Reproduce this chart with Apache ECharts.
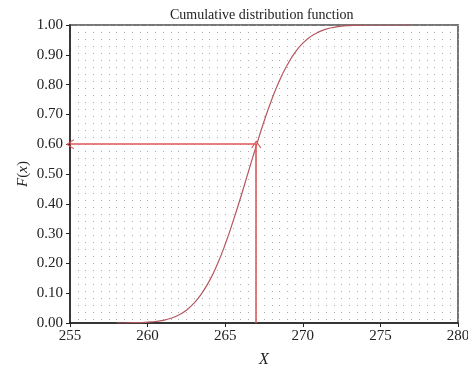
<!DOCTYPE html>
<html>
<head>
<meta charset="utf-8">
<script src="https://cdn.jsdelivr.net/npm/echarts@6/dist/echarts.min.js"></script>
<style>html,body{margin:0;padding:0;background:#fff;}#c{width:468px;height:370px;}</style>
</head>
<body>
<div id="c"></div>
<script>
var titleText = 'Cumulative distribution function';
var xValues = [258,258.5,259,259.5,260,260.5,261,261.5,262,262.5,263,263.5,264,264.5,265,265.5,266,266.5,267,267.5,268,268.5,269,269.5,270,270.5,271,271.5,272,272.5,273,273.5,274,275,276,277];
var cdfValues = [0.000,0.000,0.001,0.001,0.003,0.005,0.009,0.016,0.027,0.043,0.067,0.100,0.143,0.198,0.264,0.340,0.422,0.509,0.594,0.676,0.750,0.814,0.866,0.908,0.939,0.961,0.976,0.986,0.992,0.996,0.998,0.999,1.000,1.000,1.000,1.000];
var markX = 267;
var markY = 0.60;
var xMin = 255, xMax = 280, xStep = 5;
var yMin = 0, yMax = 1, yStep = 0.1;

var serif = "'Liberation Serif', 'DejaVu Serif', serif";
var curveData = xValues.map(function (x, i) { return [x, cdfValues[i]]; });
var chevron = 'path://M0,10 L5,0 L10,10 L9,10.6 L5,2.6 L1,10.6 Z';

var chart = echarts.init(document.getElementById('c'));
chart.setOption({
  animation: false,
  backgroundColor: '#fff',
  title: {
    text: titleText,
    left: 165, top: 3,
    textStyle: { fontFamily: serif, fontWeight: 'normal', fontSize: 14, color: '#222' }
  },
  grid: { left: 70, right: 10, top: 25, bottom: 47, show: true, borderColor: '#777', borderWidth: 2, backgroundColor: 'transparent', containLabel: false, outerBoundsMode: 'none' },
  xAxis: {
    type: 'value', min: xMin, max: xMax, interval: xStep,
    name: 'X', nameLocation: 'middle', nameGap: 29, nameMoveOverlap: false,
    nameTextStyle: { fontFamily: serif, fontStyle: 'italic', fontSize: 16, color: '#222' },
    axisLine: { show: true, onZero: false, lineStyle: { color: '#222', width: 1.5 } },
    axisTick: { show: true, inside: false, length: 4, lineStyle: { color: '#222' } },
    axisLabel: { fontFamily: serif, fontSize: 15, color: '#222', margin: 6 },
    splitLine: { show: true, lineStyle: { color: '#aaa', type: [1, 6], width: 1 } },
    minorTick: { show: false, splitNumber: 10 },
    minorSplitLine: { show: true, lineStyle: { color: '#aaa', type: [1, 6], width: 1 } }
  },
  yAxis: {
    type: 'value', min: yMin, max: yMax, interval: yStep,
    name: '{i|F}{n|(}{i|x}{n|)}', nameLocation: 'middle', nameGap: 39, nameRotate: 90, nameMoveOverlap: false,
    nameTextStyle: {
      fontFamily: serif, fontSize: 15, color: '#222',
      rich: {
        i: { fontFamily: serif, fontStyle: 'italic', fontSize: 15, color: '#222' },
        n: { fontFamily: serif, fontSize: 15, color: '#222' }
      }
    },
    axisLine: { show: true, onZero: false, lineStyle: { color: '#222', width: 1.5 } },
    axisTick: { show: true, inside: false, length: 4, lineStyle: { color: '#222' } },
    axisLabel: { fontFamily: serif, fontSize: 15, color: '#222', margin: 7, formatter: function (v) { return v.toFixed(2); } },
    splitLine: { show: false }
  },
  series: [
    {
      type: 'line', data: curveData, smooth: true, symbol: 'none',
      lineStyle: { color: '#b5575e', width: 1.2 }, z: 3
    },
    {
      type: 'line', data: [], symbol: 'none', z: 4,
      markLine: {
        silent: true, animation: false,
        symbol: ['none', chevron], symbolSize: [10, 8],
        label: { show: false },
        lineStyle: { color: '#dd5a5a', width: 1.6, type: 'solid' },
        data: [
          [{ coord: [markX, yMin] }, { coord: [markX, markY] }],
          [{ coord: [markX, markY] }, { coord: [xMin, markY] }]
        ]
      }
    }
  ]
});
</script>
</body>
</html>
